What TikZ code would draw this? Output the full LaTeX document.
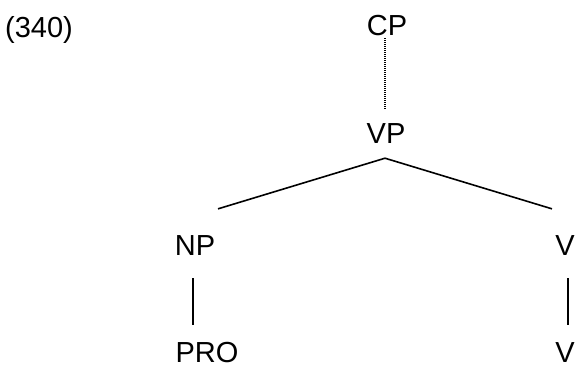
\documentclass[tikz,border=0pt]{standalone}
\usepackage{fontspec}
\setmainfont{Liberation Sans}
\begin{document}
\begin{tikzpicture}[x=1pt,y=1pt,
  lbl/.style={inner sep=0pt, anchor=base, font=\fontsize{29}{34}\selectfont},
  branch/.style={line width=1.6pt},
  dotline/.style={line width=1.4pt, dash pattern=on 0.9pt off 1.1pt}]
\useasboundingbox (0,0) rectangle (577,-367);
\node[lbl] (ex) at (39,-37) {(340)};
\node[lbl] (cp) at (387,-35) {CP};
\node[lbl] (vp) at (386,-143) {VP};
\node[lbl] (np) at (195,-255) {NP};
\node[lbl] (v1) at (565,-255) {V};
\node[lbl] (pro) at (207,-362) {PRO};
\node[lbl] (v2) at (565,-362) {V};
\draw[dotline] ([xshift=-2pt,yshift=-3pt]cp.south) -- ([xshift=-1pt,yshift=14pt]vp.north);
\draw[branch] ([xshift=23pt,yshift=26pt]np.north) -- ([xshift=-1pt,yshift=-15pt]vp.south) -- ([xshift=-13pt,yshift=26pt]v1.north);
\draw[branch] ([xshift=-2pt,yshift=-23pt]np.south) -- ([xshift=-2pt,yshift=17pt]np.south |- pro.north);
\draw[branch] ([xshift=3pt,yshift=-23pt]v1.south) -- ([xshift=3pt,yshift=17pt]v1.south |- v2.north);
\end{tikzpicture}
\end{document}
